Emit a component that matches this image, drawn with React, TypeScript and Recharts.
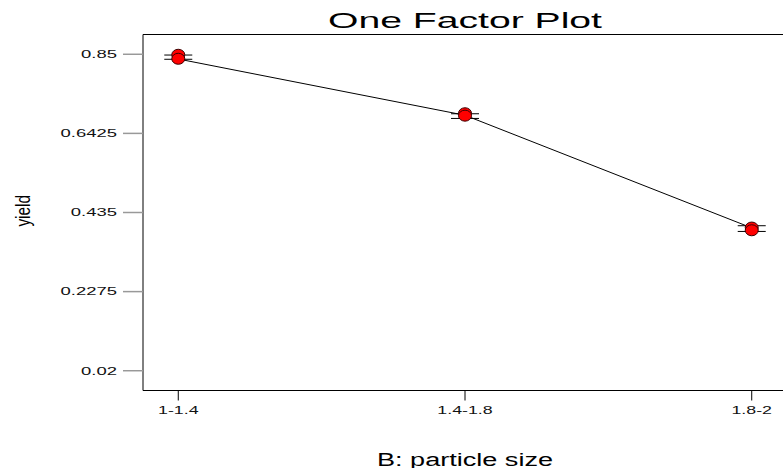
import React from "react";
import {
  ComposedChart,
  Line,
  Scatter,
  XAxis,
  YAxis,
  ReferenceLine,
} from "recharts";

// ---- data ----
const categories = ["1-1.4", "1.4-1.8", "1.8-2"];
const categoryIndex = [0, 1, 2];
const predictedYield = [0.8376, 0.69, 0.3946];
const lsdHigh = [0.848, 0.694, 0.4003];
const lsdLow = [0.8369, 0.6817, 0.3853];
const designPointIndex = [0, 0, 1, 1, 2, 2];
const designPointYield = [0.8487, 0.8382, 0.6953, 0.689, 0.3955, 0.3884];
const yTicks = [0.02, 0.2275, 0.435, 0.6425, 0.85];
const yDomain = [-0.031875, 0.901875];
const xDomain = [-0.123, 2.123];

const lineData = categoryIndex.map((i) => ({ idx: i, v: predictedYield[i] }));
const hiData = categoryIndex.map((i) => ({ idx: i, v: lsdHigh[i] }));
const loData = categoryIndex.map((i) => ({ idx: i, v: lsdLow[i] }));
const pointData = designPointIndex.map((i, k) => ({ idx: i, v: designPointYield[k] }));

const FONT = "'Liberation Sans', Arial, Helvetica, sans-serif";

const YTick = (props: any) => {
  const { x, y, payload } = props;
  return (
    <text
      x={0}
      y={0}
      dy="0.35em"
      transform={`translate(${x},${y}) scale(1.68,1)`}
      textAnchor="end"
      fontSize={11}
      fontFamily={FONT}
      fill="#111"
    >
      {String(payload.value)}
    </text>
  );
};

const XTick = (props: any) => {
  const { x, y, payload } = props;
  return (
    <text
      x={0}
      y={9.5}
      transform={`translate(${x},${y}) scale(1.78,1)`}
      textAnchor="middle"
      fontSize={10}
      fontFamily={FONT}
      fill="#111"
    >
      {categories[payload.value]}
    </text>
  );
};

const Whisker = (props: any) => {
  const { cx, cy } = props;
  if (cx == null || cy == null) return null;
  return <line x1={cx - 14} x2={cx + 14} y1={cy} y2={cy} stroke="#000" strokeWidth={1} />;
};

const RedPoint = (props: any) => {
  const { cx, cy } = props;
  if (cx == null || cy == null) return null;
  return <ellipse cx={cx} cy={cy} rx={6.5} ry={5.5} fill="#ff0000" stroke="#3a0000" strokeWidth={1} />;
};

export default function App() {
  return (
    <div
      style={{
        position: "absolute",
        left: 0,
        top: 0,
        width: 783,
        height: 468,
        overflow: "hidden",
        background: "#fff",
      }}
    >
      <ComposedChart
        width={787}
        height={468}
        data={lineData}
        margin={{ top: 34.5, right: 0, left: 0, bottom: 0 }}
      >
        <XAxis
          dataKey="idx"
          type="number"
          domain={xDomain}
          ticks={categoryIndex}
          allowDataOverflow
          height={77.5}
          tickSize={10}
          tickMargin={4}
          axisLine={{ stroke: "#000", strokeWidth: 1 }}
          tickLine={{ stroke: "#000", strokeWidth: 1 }}
          tick={<XTick />}
        />
        <YAxis
          dataKey="v"
          type="number"
          domain={yDomain}
          ticks={yTicks}
          allowDataOverflow
          width={143}
          tickSize={20}
          tickMargin={6}
          axisLine={{ stroke: "#000", strokeWidth: 1 }}
          tickLine={{ stroke: "#999", strokeWidth: 1.5 }}
          tick={<YTick />}
        />
        <ReferenceLine y={yDomain[1]} stroke="#000" strokeWidth={1} />
        <Line
          data={lineData}
          dataKey="v"
          stroke="#000"
          strokeWidth={1}
          dot={false}
          activeDot={false}
          isAnimationActive={false}
        />
        <Scatter data={hiData} dataKey="v" shape={<Whisker />} isAnimationActive={false} />
        <Scatter data={loData} dataKey="v" shape={<Whisker />} isAnimationActive={false} />
        <Scatter data={pointData} dataKey="v" shape={<RedPoint />} isAnimationActive={false} />
      </ComposedChart>
      <svg
        width={783}
        height={468}
        style={{ position: "absolute", left: 0, top: 0, pointerEvents: "none" }}
      >
        <text
          x={465}
          y={28}
          textAnchor="middle"
          fontSize={22}
          fontFamily={FONT}
          fill="#000"
          textLength={274}
          lengthAdjust="spacingAndGlyphs"
        >
          One Factor Plot
        </text>
        <text
          x={465}
          y={465.5}
          textAnchor="middle"
          fontSize={18}
          fontFamily={FONT}
          fill="#000"
          textLength={176}
          lengthAdjust="spacingAndGlyphs"
        >
          B: particle size
        </text>
        <text
          transform="translate(30,210.8) rotate(-90) scale(0.96,1.3)"
          textAnchor="middle"
          fontSize={16}
          fontFamily={FONT}
          fill="#000"
        >
          yield
        </text>
      </svg>
    </div>
  );
}
